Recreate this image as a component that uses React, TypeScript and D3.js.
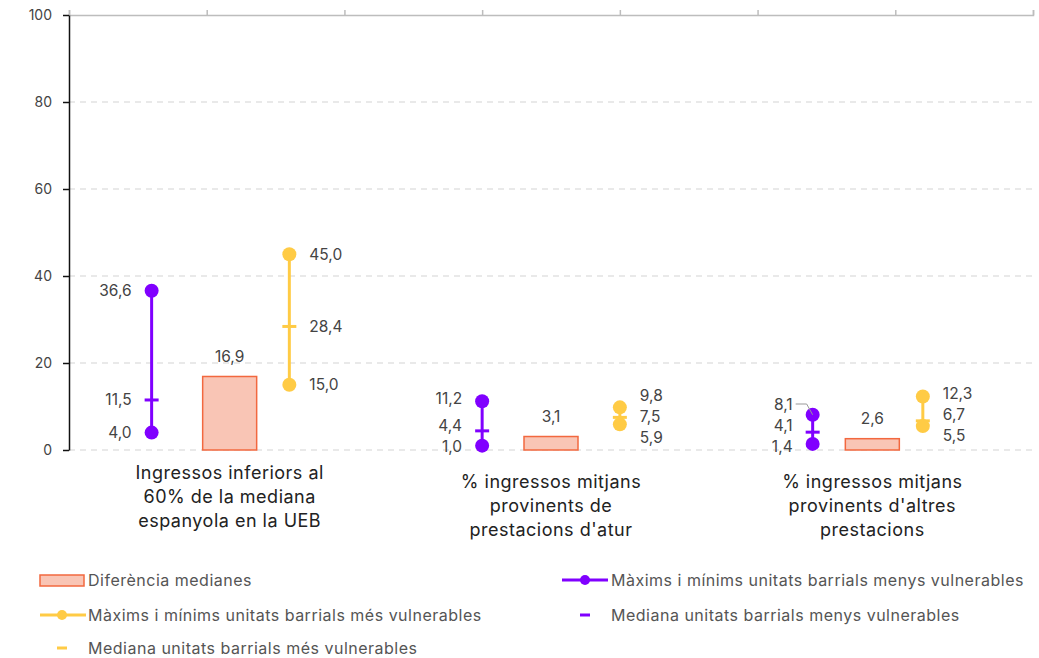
import React, { useRef, useEffect } from 'react'
import * as d3 from 'd3'

// categories (one line per array entry)
const categories: string[][] = [
  ['Ingressos inferiors al', '60% de la mediana', 'espanyola en la UEB'],
  ['% ingressos mitjans', 'provinents de', "prestacions d'atur"],
  ['% ingressos mitjans', "provinents d'altres", 'prestacions'],
]

const diffMedians = [16.9, 3.1, 2.6]

// menys vulnerables: min, mediana, max
const lessMin = [4.0, 1.0, 1.4]
const lessMedian = [11.5, 4.4, 4.1]
const lessMax = [36.6, 11.2, 8.1]
const lessX = [0.6, 3.0, 5.4]

// més vulnerables: min, mediana, max
const moreMin = [15.0, 5.9, 5.5]
const moreMedian = [28.4, 7.5, 6.7]
const moreMax = [45.0, 9.8, 12.3]
const moreX = [1.6, 4.0, 6.2]

const yTicks = [0, 20, 40, 60, 80, 100]

const PURPLE = '#8000ff'
const YELLOW = '#ffcb45'
const BAR_FILL = '#f9c5b5'
const BAR_STROKE = '#f2683f'
const TEXT = '#444'
const FONT = 'Inter, "Noto Sans", sans-serif'
const FEAT = 'normal'

const W = 1039
const H = 658
const margin = { left: 69, right: 6, top: 15, bottom: 208 }

const fmt = (v: number) => d3.format('.1f')(v).replace('.', ',')

// spread labels apart so they don't overlap, keep them above the baseline
function spread(ys: number[], gap: number, maxY: number): number[] {
  const idx = ys.map((y, i) => ({ y, i })).sort((a, b) => a.y - b.y)
  for (let k = 0; k < 60; k++) {
    for (let j = 1; j < idx.length; j++) {
      const d = idx[j].y - idx[j - 1].y
      if (d < gap) {
        const push = (gap - d) / 2
        idx[j].y += push
        idx[j - 1].y -= push
      }
    }
  }
  const over = idx[idx.length - 1].y - maxY
  if (over > 0) idx.forEach(o => (o.y -= over))
  const out = new Array(ys.length)
  idx.forEach(o => (out[o.i] = o.y))
  return out
}

export default function App() {
  const svgRef = useRef<SVGSVGElement>(null)

  useEffect(() => {
    if (!svgRef.current) return
    const svg = d3.select(svgRef.current)
    svg.selectAll('*').remove()

    const x0 = margin.left
    const x1 = W - margin.right
    const yBottom = 450

    const x = d3.scaleLinear().domain([0, 7]).range([x0, x1])
    const band = d3.scaleBand<number>().domain([0, 1, 2]).range([x0, x1])
    const y = d3.scaleLinear().domain([0, 100]).range([yBottom, margin.top])

    // grid
    svg.append('g')
      .selectAll('line')
      .data(yTicks.filter(t => t < 100))
      .enter()
      .append('line')
      .attr('x1', x0)
      .attr('x2', x1)
      .attr('y1', d => y(d))
      .attr('y2', d => y(d))
      .attr('stroke', '#d4d4d4')
      .attr('stroke-width', 1.2)
      .attr('stroke-dasharray', '6,5')

    // top axis
    const top = svg.append('g')
      .attr('transform', `translate(0,${y(100)})`)
      .call(d3.axisTop(x).ticks(7).tickSize(5).tickSizeOuter(5).tickFormat(() => ''))
    top.selectAll('path, line').attr('stroke', '#bdbdbd').attr('stroke-width', 1.5)

    // left axis
    const left = svg.append('g')
      .attr('transform', `translate(${x0},0)`)
      .call(d3.axisLeft(y).tickValues(yTicks).tickSize(6).tickSizeOuter(0).tickPadding(11))
    left.select('.domain').attr('stroke', '#111').attr('stroke-width', 1.5)
    left.selectAll('.tick line').attr('stroke', '#111').attr('stroke-width', 1.5)
    left.selectAll('text')
      .attr('fill', TEXT)
      .style('font-family', FONT)
      .style('font-size', '14px')
      .style('font-feature-settings', FEAT)

    const bw = 54
    const g = svg.append('g')
      .style('font-family', FONT)
      .style('font-feature-settings', FEAT)

    // bars
    diffMedians.forEach((v, i) => {
      const cx = band(i)! + band.bandwidth() / 2
      g.append('rect')
        .attr('x', cx - bw / 2)
        .attr('y', y(v))
        .attr('width', bw)
        .attr('height', yBottom - y(v))
        .attr('fill', BAR_FILL)
        .attr('stroke', BAR_STROKE)
        .attr('stroke-width', 1.5)
      g.append('text')
        .attr('x', cx)
        .attr('y', y(v) - 20)
        .attr('text-anchor', 'middle')
        .attr('dominant-baseline', 'central')
        .attr('fill', TEXT)
        .style('font-size', '15.5px')
        .text(fmt(v))
    })

    // ranges
    const drawRange = (
      xs: number[], mins: number[], meds: number[], maxs: number[],
      color: string, side: 'left' | 'right'
    ) => {
      xs.forEach((xv, i) => {
        const px = x(xv)
        g.append('line')
          .attr('x1', px).attr('x2', px)
          .attr('y1', y(mins[i])).attr('y2', y(maxs[i]))
          .attr('stroke', color).attr('stroke-width', 3)
        g.append('line')
          .attr('x1', px - 7).attr('x2', px + 7)
          .attr('y1', y(meds[i])).attr('y2', y(meds[i]))
          .attr('stroke', color).attr('stroke-width', 3)
        ;[mins[i], maxs[i]].forEach(v => {
          g.append('circle')
            .attr('cx', px).attr('cy', y(v)).attr('r', 7)
            .attr('fill', color)
        })
        const vals = [mins[i], meds[i], maxs[i]]
        const ly = spread(vals.map(v => y(v)), 21, 446)
        vals.forEach((v, k) => {
          const tx = side === 'left' ? px - 20 : px + 20
          g.append('text')
            .attr('x', tx)
            .attr('y', ly[k])
            .attr('text-anchor', side === 'left' ? 'end' : 'start')
            .attr('dominant-baseline', 'central')
            .attr('fill', TEXT)
            .style('font-size', '15.5px')
            .text(fmt(v))
          if (side === 'left' && k === 2 && y(v) - ly[k] > 6) {
            g.append('polyline')
              .attr('points', `${tx + 3},${ly[k]} ${px - 6},${ly[k]} ${px},${y(v)}`)
              .attr('fill', 'none')
              .attr('stroke', '#999')
              .attr('stroke-width', 1)
          }
        })
      })
    }
    drawRange(lessX, lessMin, lessMedian, lessMax, PURPLE, 'left')
    drawRange(moreX, moreMin, moreMedian, moreMax, YELLOW, 'right')

    // category labels
    categories.forEach((lines, i) => {
      const cx = band(i)! + band.bandwidth() / 2
      const t = g.append('text')
        .attr('text-anchor', 'middle')
        .attr('fill', '#222')
        .style('font-size', '18px')
        .style('letter-spacing', '0.5px')
      lines.forEach((ln, k) => {
        t.append('tspan')
          .attr('x', cx)
          .attr('y', (i === 0 ? 472 : 481) + k * 24)
          .attr('dominant-baseline', 'central')
          .text(ln)
      })
    })

    // legend
    const lg = svg.append('g')
      .style('font-family', FONT)
      .style('font-size', '16px')
      .style('letter-spacing', '0.5px')
    const item = (lx: number, ly: number, label: string) => {
      lg.append('text')
        .attr('x', lx + 48)
        .attr('y', ly)
        .attr('dominant-baseline', 'central')
        .attr('fill', '#555')
        .text(label)
    }
    lg.append('rect')
      .attr('x', 40).attr('y', 575).attr('width', 44).attr('height', 11)
      .attr('fill', BAR_FILL).attr('stroke', BAR_STROKE).attr('stroke-width', 1.5)
    item(40, 580, 'Diferència medianes')

    lg.append('line').attr('x1', 562).attr('x2', 608).attr('y1', 580).attr('y2', 580)
      .attr('stroke', PURPLE).attr('stroke-width', 3)
    lg.append('circle').attr('cx', 585).attr('cy', 580).attr('r', 5).attr('fill', PURPLE)
    item(563, 580, 'Màxims i mínims unitats barrials menys vulnerables')

    lg.append('line').attr('x1', 40).attr('x2', 86).attr('y1', 615).attr('y2', 615)
      .attr('stroke', YELLOW).attr('stroke-width', 3)
    lg.append('circle').attr('cx', 62).attr('cy', 615).attr('r', 5).attr('fill', YELLOW)
    item(40, 615, 'Màxims i mínims unitats barrials més vulnerables')

    lg.append('line').attr('x1', 580).attr('x2', 590).attr('y1', 615).attr('y2', 615)
      .attr('stroke', PURPLE).attr('stroke-width', 3)
    item(563, 615, 'Mediana unitats barrials menys vulnerables')

    lg.append('line').attr('x1', 57).attr('x2', 67).attr('y1', 648).attr('y2', 648)
      .attr('stroke', YELLOW).attr('stroke-width', 3)
    item(40, 648, 'Mediana unitats barrials més vulnerables')
  }, [])

  return (
    <svg
      ref={svgRef}
      width={W}
      height={H}
      style={{ position: 'absolute', left: 0, top: 0, background: '#fff' }}
    />
  )
}
